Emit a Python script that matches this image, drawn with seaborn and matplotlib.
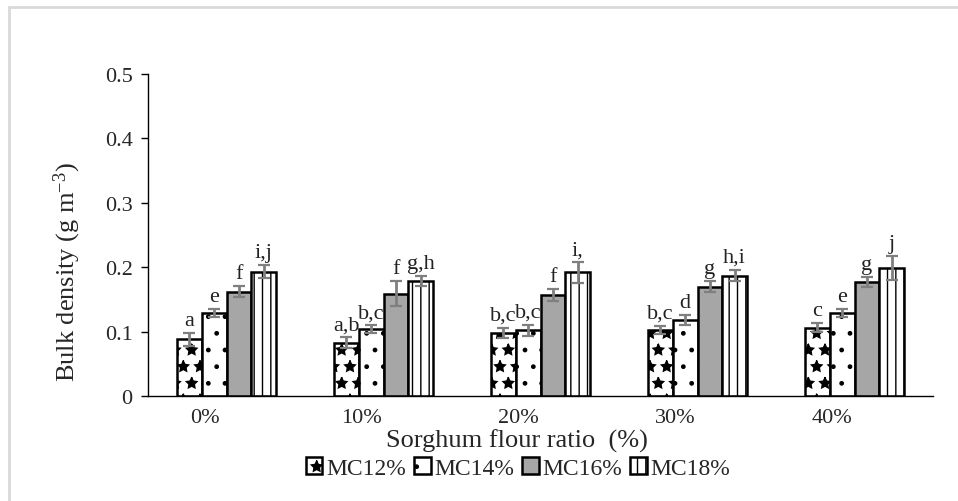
import numpy as np
import pandas as pd
import matplotlib
matplotlib.use("Agg")
import matplotlib.pyplot as plt
import matplotlib.transforms as mtransforms
from matplotlib.patches import Rectangle
import seaborn as sns

# 数据 =====================================================================
categories = ['0%', '10%', '20%', '30%', '40%']
series = ['MC12%', 'MC14%', 'MC16%', 'MC18%']

mc12 = [0.088, 0.083, 0.098, 0.103, 0.106]
mc14 = [0.129, 0.104, 0.102, 0.118, 0.129]
mc16 = [0.162, 0.159, 0.157, 0.170, 0.177]
mc18 = [0.193, 0.179, 0.192, 0.187, 0.199]

err12 = [0.010, 0.008, 0.008, 0.006, 0.007]
err14 = [0.006, 0.006, 0.009, 0.008, 0.006]
err16 = [0.009, 0.020, 0.009, 0.009, 0.0085]
err18 = [0.010, 0.008, 0.016, 0.009, 0.019]

letters12 = ['a', 'a,b', 'b,c', 'b,c', 'c']
letters14 = ['e', 'b,c', 'b,c', 'd', 'e']
letters16 = ['f', 'f', 'f', 'g', 'g']
letters18 = ['i,j', 'g,h', 'i,', 'h,i', 'j']

values = [mc12, mc14, mc16, mc18]
errors = [err12, err14, err16, err18]
letters = [letters12, letters14, letters16, letters18]

df = pd.DataFrame({
    'ratio': np.tile(categories, len(series)),
    'mc': np.repeat(series, len(categories)),
    'density': np.concatenate(values),
})

# 样式 =====================================================================
sns.set_style("white")
plt.rcParams['font.family'] = ['Liberation Serif', 'DejaVu Serif']
plt.rcParams['mathtext.fontset'] = 'custom'
plt.rcParams['mathtext.rm'] = 'Liberation Serif'
plt.rcParams['mathtext.default'] = 'regular'
plt.rcParams['hatch.linewidth'] = 1.0

fig = plt.figure(figsize=(9.58, 5.02), dpi=100)
ax = fig.add_axes([148 / 958, 1 - 397 / 502, (933 - 148) / 958, (397 - 75) / 502])

palette = ['white', 'white', '#a6a6a6', 'white']
hatches = ['*', '.', '', '||']

sns.barplot(data=df, x='ratio', y='density', hue='mc', order=categories,
            hue_order=series, palette=palette, width=0.63, gap=0,
            edgecolor='black', linewidth=1.8, errorbar=None, legend=False, ax=ax)

bar_containers = list(ax.containers)
for cont, h, errs, labs in zip(bar_containers, hatches, errors, letters):
    for bar, e, lab in zip(cont.patches, errs, labs):
        bar.set_hatch(h)
        xc = bar.get_x() + bar.get_width() / 2
        top = bar.get_height()
        ax.errorbar(xc, top, yerr=e, color='#7f7f7f', elinewidth=2,
                    capsize=4, capthick=1.6, zorder=5)
        ax.annotate(lab, xy=(xc, top + e), xytext=(0, 2),
                    textcoords='offset points', ha='center', va='bottom',
                    fontsize=16, color='#222222', zorder=6)

ax.set_ylim(0, 0.5)
ax.set_yticks(np.arange(0, 0.51, 0.1))
ax.yaxis.set_major_formatter(plt.FuncFormatter(lambda v, p: '0' if abs(v) < 1e-9 else f'{v:.1f}'))
ax.set_xlim(-0.5, len(categories) - 0.5)
ax.set_xlabel('')
ax.set_ylabel('')

for s in ['top', 'right']:
    ax.spines[s].set_visible(False)
for s in ['left', 'bottom']:
    ax.spines[s].set_color('black')
    ax.spines[s].set_linewidth(1.0)

ax.tick_params(axis='y', direction='out', length=5, width=1, color='black',
               labelsize=16, pad=6, left=True)
ax.tick_params(axis='x', length=0, labelsize=16, pad=9)

# x轴刻度标签整体左移
offset = mtransforms.ScaledTranslation(-22 / 100, 0, fig.dpi_scale_trans)
for lbl in ax.get_xticklabels():
    lbl.set_transform(lbl.get_transform() + offset)

fig.text(517 / 958, 1 - 441 / 502, 'Sorghum flour ratio  (%)', ha='center',
         va='center', fontsize=19)
fig.text(67 / 958, 1 - 272 / 502, r'Bulk density (g m$^{-3}$)', ha='center',
         va='center', rotation=90, fontsize=19)

handles = [c.patches[0] for c in bar_containers]
fig.legend(handles, series, loc='center', bbox_to_anchor=(518 / 958, 1 - 469 / 502),
           ncol=4, frameon=False, fontsize=17, handlelength=0.7, handleheight=0.7,
           handletextpad=0.15, columnspacing=0.35, borderpad=0)

# 外框
fig.patches.append(Rectangle((9 / 958, -0.05), 1.2, 1 - 8 / 502 + 0.05,
                             transform=fig.transFigure, fill=False,
                             edgecolor='#d9d9d9', linewidth=2))

fig.savefig('out.png', dpi=100)
